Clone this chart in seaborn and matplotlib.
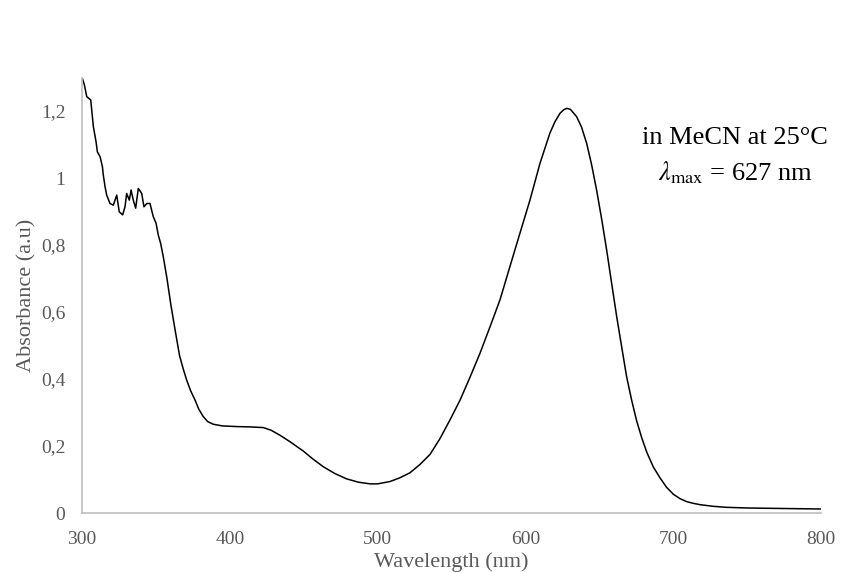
import numpy as np
import pandas as pd
import matplotlib
matplotlib.use("Agg")
import matplotlib.pyplot as plt
import seaborn as sns

# UV-vis spectrum values
wavelength = [300, 301.5, 303.2, 305.9, 307.7, 309.5, 310.4, 312.2, 313.8, 314.4, 315.6,
              316.7, 318.9, 321.2, 323.5, 325.2, 327.5, 329.1, 330.2, 332, 333.2, 334.7,
              336.3, 338.1, 340.4, 341.9, 343.8, 346, 348.2, 350.1, 351.6, 353.2, 355,
              357.5, 360, 363, 366, 368.5, 370.8, 373.5, 376.5, 379, 382, 385, 388.8,
              395, 404.7, 414, 422.7, 428, 434, 441, 449.7, 456, 463.3, 471, 479, 487,
              494.9, 500, 508.4, 515, 521.9, 528.7, 535.5, 542.2, 549, 555.8, 562.5,
              569.3, 576, 582.8, 589.5, 596.3, 603.1, 609.9, 616.6, 620, 623.4, 626,
              628, 630.5, 634.7, 638, 641.5, 644.8, 648.2, 651.6, 655, 658.4, 661.8,
              665.2, 668.5, 672, 675.3, 678.7, 682.1, 686.5, 691.1, 695.5, 700.1, 704.6,
              709.1, 713.5, 718, 727, 736, 750, 765.5, 782, 800]
absorbance = [1.30, 1.28, 1.243, 1.233, 1.153, 1.108, 1.078, 1.064, 1.034, 1.009, 0.974,
              0.949, 0.924, 0.919, 0.949, 0.899, 0.89, 0.914, 0.954, 0.934, 0.964, 0.934,
              0.91, 0.969, 0.954, 0.914, 0.924, 0.924, 0.885, 0.865, 0.83, 0.805, 0.765,
              0.70, 0.625, 0.546, 0.47, 0.43, 0.397, 0.365, 0.337, 0.31, 0.288, 0.273, 0.265,
              0.26, 0.258, 0.257, 0.255, 0.247, 0.232, 0.212, 0.185, 0.162, 0.138, 0.118, 0.102,
              0.092, 0.087, 0.087, 0.094, 0.105, 0.12, 0.145, 0.175, 0.222, 0.278, 0.337, 0.405,
              0.477, 0.555, 0.636, 0.735, 0.835, 0.934, 1.044, 1.134, 1.168, 1.193, 1.204,
              1.208, 1.205, 1.183, 1.152, 1.103, 1.04, 0.964, 0.878, 0.785, 0.685, 0.586,
              0.495, 0.407, 0.335, 0.275, 0.225, 0.182, 0.138, 0.105, 0.077, 0.056, 0.043,
              0.034, 0.029, 0.025, 0.02, 0.017, 0.015, 0.014, 0.013, 0.012]

df = pd.DataFrame({"Wavelength": wavelength, "Absorbance": absorbance})

sns.set_style("white")
plt.rcParams["font.family"] = ["Liberation Serif", "DejaVu Serif"]
plt.rcParams["mathtext.fontset"] = "stix"

fig = plt.figure(figsize=(8.42, 5.73), dpi=100)
ax = fig.add_axes([0.0974, 0.1047, 0.8776, 0.760])

sns.lineplot(data=df, x="Wavelength", y="Absorbance", color="black", linewidth=1.1,
             sort=False, ax=ax)

ax.set_xlim(300, 800)
ax.set_ylim(0, 1.3)
ax.set_xticks([300, 400, 500, 600, 700, 800])
ax.set_yticks([0, 0.2, 0.4, 0.6, 0.8, 1.0, 1.2])
ax.set_yticklabels(["0", "0,2", "0,4", "0,6", "0,8", "1", "1,2"])
ax.tick_params(colors="#595959", labelsize=14, length=0)
ax.tick_params(axis="x", pad=13)
ax.tick_params(axis="y", pad=12)

for s in ["top", "right"]:
    ax.spines[s].set_visible(False)
for s in ["left", "bottom"]:
    ax.spines[s].set_color("#bfbfbf")
    ax.spines[s].set_linewidth(1.2)

ax.set_xlabel("Wavelength (nm)", fontsize=16, color="#595959", labelpad=3)
ax.set_ylabel("Absorbance (a.u)", fontsize=16, color="#595959", labelpad=3)

ax.text(742, 1.12, "in MeCN at 25°C", fontsize=19, ha="center", va="center", color="black")
ax.text(742, 1.015, r"$\lambda_{\mathrm{max}}$ = 627 nm", fontsize=19, ha="center",
        va="center", color="black")

fig.savefig("out.png", dpi=100)
